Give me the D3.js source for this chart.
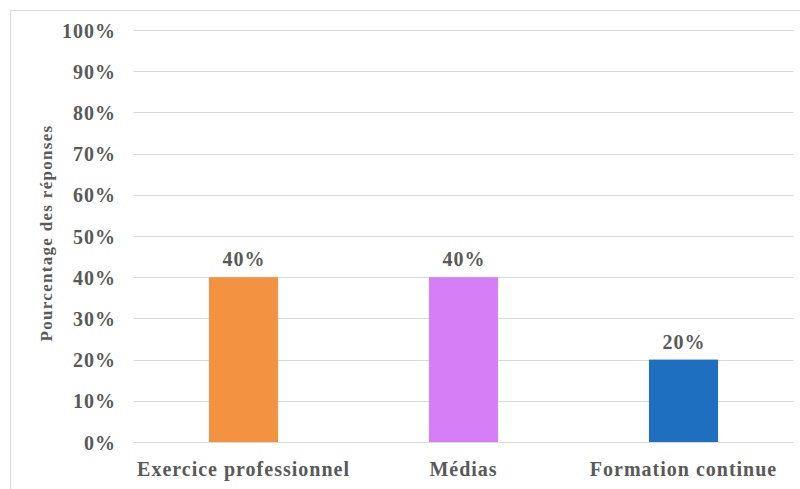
<!DOCTYPE html>
<html>
<head>
<meta charset="utf-8">
<script src="https://cdn.jsdelivr.net/npm/d3@7"></script>
<style>
  html, body { margin: 0; padding: 0; background: #fff; }
  svg text { font-family: "Liberation Serif", "Times New Roman", serif; font-weight: bold; fill: #595959; }
</style>
</head>
<body>
<svg id="chart" width="800" height="489"></svg>
<script>
const categories = ["Exercice professionnel", "Médias", "Formation continue"];
const values = [40, 40, 20];
const barColors = ["#F39240", "#D67EF5", "#1F6FC0"];
const yTicks = [0, 10, 20, 30, 40, 50, 60, 70, 80, 90, 100];
const yTitle = "Pourcentage des réponses";

const svg = d3.select("#chart");

// outer frame
svg.append("rect")
  .attr("x", 10.5).attr("y", 10.5)
  .attr("width", 800).attr("height", 500)
  .attr("fill", "none").attr("stroke", "#d9d9d9").attr("stroke-width", 1);

const plot = { left: 133.5, right: 793.5, top: 30, bottom: 442 };

const x = d3.scaleBand()
  .domain(categories)
  .range([plot.left, plot.right])
  .paddingInner(0.686)
  .paddingOuter(0.343);

const y = d3.scaleLinear()
  .domain([0, 100])
  .range([plot.bottom, plot.top]);

// gridlines
svg.append("g")
  .selectAll("line")
  .data(yTicks)
  .join("line")
  .attr("x1", plot.left).attr("x2", plot.right)
  .attr("y1", d => Math.round(y(d)) + 0.5).attr("y2", d => Math.round(y(d)) + 0.5)
  .attr("stroke", "#d9d9d9").attr("stroke-width", 1.2);

// y axis labels
const yAxis = d3.axisLeft(y).tickValues(yTicks).tickFormat(d => d + "%").tickSize(0).tickPadding(0);
const gy = svg.append("g").attr("transform", "translate(116,0)").call(yAxis);
gy.attr("font-family", null).attr("font-size", null);
gy.select(".domain").remove();
gy.selectAll("text")
  .attr("font-size", 20)
  .attr("letter-spacing", 1)
  .attr("dy", "0.35em")
  .attr("fill", "#595959");

// bars
svg.append("g")
  .selectAll("rect")
  .data(values)
  .join("rect")
  .attr("x", (d, i) => x(categories[i]))
  .attr("width", x.bandwidth())
  .attr("y", d => y(d))
  .attr("height", d => y(0) - y(d))
  .attr("fill", (d, i) => barColors[i]);

// value labels
svg.append("g")
  .selectAll("text")
  .data(values)
  .join("text")
  .attr("x", (d, i) => x(categories[i]) + x.bandwidth() / 2 + 0.5)
  .attr("y", d => y(d) - 11)
  .attr("text-anchor", "middle")
  .attr("font-size", 20)
  .attr("letter-spacing", 1)
  .text(d => d + "%");

// x axis labels
const xAxis = d3.axisBottom(x).tickSize(0).tickPadding(0);
const gx = svg.append("g").attr("transform", `translate(0,${plot.bottom})`).call(xAxis);
gx.attr("font-family", null).attr("font-size", null);
gx.select(".domain").remove();
gx.selectAll("text")
  .attr("font-size", 20)
  .attr("letter-spacing", 1)
  .attr("y", 34)
  .attr("dy", null)
  .attr("fill", "#595959");

// y axis title
svg.append("text")
  .attr("transform", `translate(52,${(plot.top + plot.bottom) / 2 - 3}) rotate(-90)`)
  .attr("text-anchor", "middle")
  .attr("font-size", 17)
  .attr("letter-spacing", 1.3)
  .text(yTitle);
</script>
</body>
</html>
